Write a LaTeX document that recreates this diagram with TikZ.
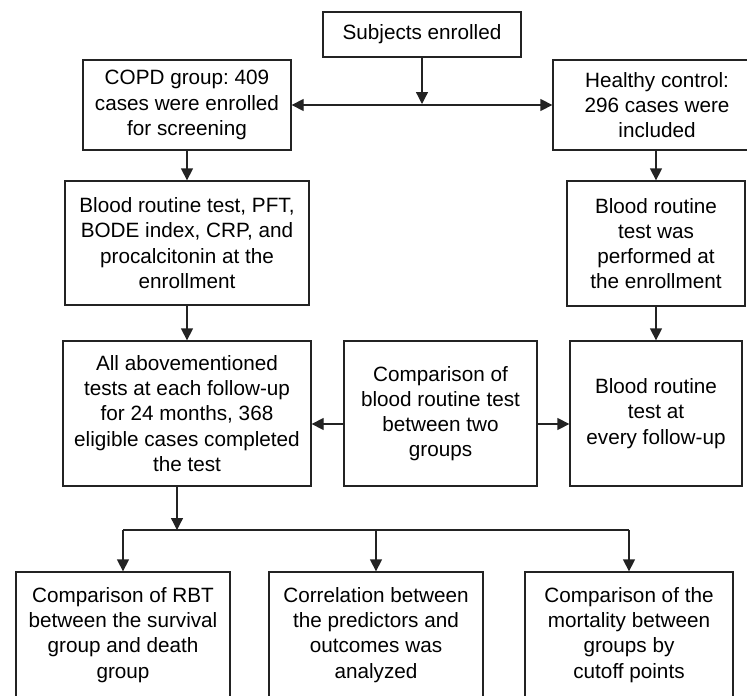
\documentclass[tikz,border=0pt]{standalone}
\usepackage{fontspec}
\setmainfont{Liberation Sans}
\frenchspacing
\usetikzlibrary{arrows.meta}
\definecolor{ln}{RGB}{35,35,35}
\begin{document}
\begin{tikzpicture}[x=1pt,y=-1pt,
  box/.style={draw=ln,line width=1.3pt,align=center,inner sep=0pt,
    font=\fontsize{20.7}{25.2}\selectfont,text=black},
  conn/.style={draw=ln,line width=1.3pt},
  tip/.tip={Triangle[length=12pt,width=12pt]},
  arr/.style={conn,-tip}]
\useasboundingbox (0,0) rectangle (747,696);
\clip (0,0) rectangle (747,696);
\node[box,minimum width=198pt,minimum height=45pt] (subj) at (422,34.5) {Subjects enrolled};
\node[box,minimum width=208pt,minimum height=90pt] (copd) at (187,105) {COPD group: 409\\cases were enrolled\\for screening};
\node[box,minimum width=208pt,minimum height=90pt] (healthy) at (657,105) {Healthy control:\\296 cases were\\included};
\node[box,minimum width=244pt,minimum height=124pt] (blood1) at (187,243) {Blood routine test, PFT,\\BODE index, CRP, and\\procalcitonin at the\\enrollment};
\node[box,minimum width=178pt,minimum height=125pt] (blood2) at (656,243.5) {Blood routine\\test was\\performed at\\the enrollment};
\node[box,minimum width=248pt,minimum height=145pt] (all) at (187,413.5) {All abovementioned\\tests at each follow-up\\for 24 months, 368\\eligible cases completed\\the test};
\node[box,minimum width=193pt,minimum height=145pt] (cmp) at (440.5,413.5) {Comparison of\\blood routine test\\between two\\groups};
\node[box,minimum width=172pt,minimum height=145pt] (bfu) at (656,413.5) {Blood routine\\test at\\every follow-up};
\node[box,minimum width=214pt,minimum height=126pt] (b1) at (123,635) {Comparison of RBT\\between the survival\\group and death\\group};
\node[box,minimum width=214pt,minimum height=126pt] (b2) at (376,635) {Correlation between\\the predictors and\\outcomes was\\analyzed};
\node[box,minimum width=208pt,minimum height=126pt] (b3) at (629,635) {Comparison of the\\mortality between\\groups by\\cutoff points};
\coordinate (j1) at (422,104);
\coordinate (j2) at (177,530);
\draw[arr] (subj.south) -- (j1);
\draw[conn,tip-tip] (copd.east) -- (healthy.west);
\draw[arr] (copd.south) -- (blood1.north);
\draw[arr] (blood1.south) -- (all.north);
\draw[arr] (healthy.south -| blood2.north) -- (blood2.north);
\draw[arr] (blood2.south) -- (bfu.north);
\draw[arr] ([yshift=-10.5pt]cmp.west) -- ([yshift=-10.5pt]all.east);
\draw[arr] ([yshift=-10.5pt]cmp.east) -- ([yshift=-10.5pt]bfu.west);
\draw[arr] ([xshift=-10pt]all.south) -- (j2);
\draw[conn] (b1.north |- j2) -- (b3.north |- j2);
\draw[arr] (b1.north |- j2) -- (b1.north);
\draw[arr] (b2.north |- j2) -- (b2.north);
\draw[arr] (b3.north |- j2) -- (b3.north);
\end{tikzpicture}
\end{document}
